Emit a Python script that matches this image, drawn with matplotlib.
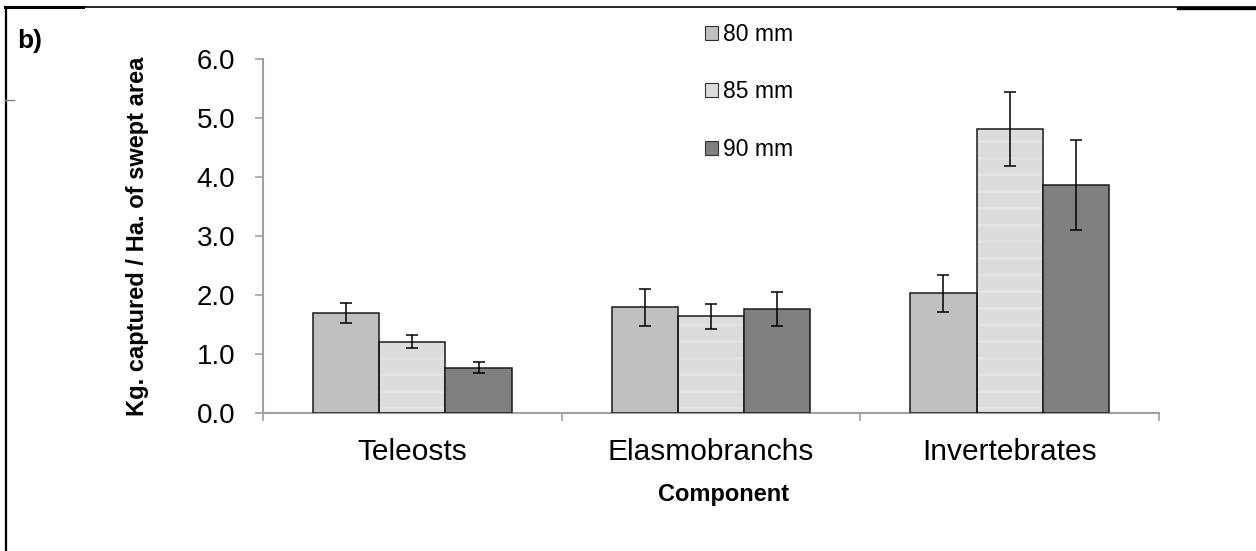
import matplotlib
matplotlib.use('Agg')
import matplotlib.pyplot as plt
from matplotlib.patches import Patch
from matplotlib.lines import Line2D
import numpy as np

plt.rcParams['font.family'] = ['Liberation Sans', 'DejaVu Sans']
plt.rcParams['hatch.linewidth'] = 2.0

components = ['Teleosts', 'Elasmobranchs', 'Invertebrates']
mesh = ['80 mm', '85 mm', '90 mm']
kg_80 = [1.69, 1.79, 2.03]
kg_85 = [1.21, 1.64, 4.81]
kg_90 = [0.77, 1.76, 3.86]
err_80 = [0.17, 0.32, 0.31]
err_85 = [0.11, 0.21, 0.63]
err_90 = [0.10, 0.29, 0.76]

fills = ['#c0c0c0', '#dcdcdc', '#808080']
W, H = 1256, 551
fig = plt.figure(figsize=(W / 100, H / 100), dpi=100)
ax = fig.add_axes([263 / W, (H - 413) / H, (1159 - 263) / W, (413 - 59) / H])

x = np.arange(len(components))
width = 0.222
series = [(kg_80, err_80), (kg_85, err_85), (kg_90, err_90)]
for i, (vals, errs) in enumerate(series):
    pos = x + (i - 1) * width
    if i == 1:
        # faint horizontal banding on the 85 mm bars
        ax.bar(pos, vals, width, color=fills[i], edgecolor='#e3e3e3',
               hatch='-', linewidth=0, zorder=2)
        ax.bar(pos, vals, width, fill=False, edgecolor='#1a1a1a',
               linewidth=1.1, zorder=3)
    else:
        ax.bar(pos, vals, width, color=fills[i], edgecolor='#1a1a1a',
               linewidth=1.1, zorder=3)
    ax.errorbar(pos, vals, yerr=errs, fmt='none', ecolor='black',
                elinewidth=1.1, capsize=4, capthick=1.1, zorder=4)

ax.set_ylim(0, 6)
ax.set_xlim(-0.5, 2.5)
ax.set_yticks(np.arange(0, 6.1, 1.0))
ax.set_yticklabels(['%.1f' % v for v in np.arange(0, 6.1, 1.0)], fontsize=20)
ax.set_xticks([-0.5, 0.5, 1.5, 2.5])
ax.set_xticklabels([])
ax.set_xticks(x, minor=True)
ax.set_xticklabels(components, minor=True, fontsize=21.5)
ax.tick_params(axis='x', which='minor', length=0, pad=18)
ax.tick_params(axis='x', which='major', length=6, width=1.2, color='#a0a0a0')
ax.tick_params(axis='y', length=6, width=1.2, color='#a0a0a0', pad=14)

for s in ['top', 'right']:
    ax.spines[s].set_visible(False)
for s in ['left', 'bottom']:
    ax.spines[s].set_color('#a0a0a0')
    ax.spines[s].set_linewidth(1.5)

ax.set_ylabel('Kg. captured / Ha. of swept area', fontsize=17,
              fontweight='bold', labelpad=34)
fig.text(724 / W, 1 - 495 / H, 'Component', fontsize=17, fontweight='bold',
         ha='center', va='center')
fig.text(17 / W, 1 - 41 / H, 'b)', fontsize=19, fontweight='bold',
         ha='left', va='center')

handles = [Patch(facecolor=c, edgecolor='#333333', linewidth=0.8) for c in fills]
leg = fig.legend(handles, mesh, loc='upper left',
                 bbox_to_anchor=(705 / W, 1 - 23 / H),
                 frameon=False, fontsize=16.5, handlelength=0.55,
                 handleheight=0.55, handletextpad=0.25, labelspacing=1.5,
                 borderpad=0, borderaxespad=0)

# outer frame lines
fig.add_artist(Line2D([5 / W, 1], [1 - 7 / H, 1 - 7 / H], color='black',
                      linewidth=1.2, transform=fig.transFigure))
fig.add_artist(Line2D([5 / W, 83 / W], [1 - 7 / H, 1 - 7 / H], color='black',
                      linewidth=2.2, transform=fig.transFigure))
fig.add_artist(Line2D([1178 / W, 1], [1 - 7.5 / H, 1 - 7.5 / H], color='black',
                      linewidth=2.4, transform=fig.transFigure))
fig.add_artist(Line2D([6 / W, 6 / W], [1 - 7 / H, 0], color='black',
                      linewidth=1.6, transform=fig.transFigure))
fig.add_artist(Line2D([5 / W, 14 / W], [1 - 100 / H, 1 - 100 / H], color='#808080',
                      linewidth=1.0, transform=fig.transFigure))

fig.savefig('out.png', dpi=100)
